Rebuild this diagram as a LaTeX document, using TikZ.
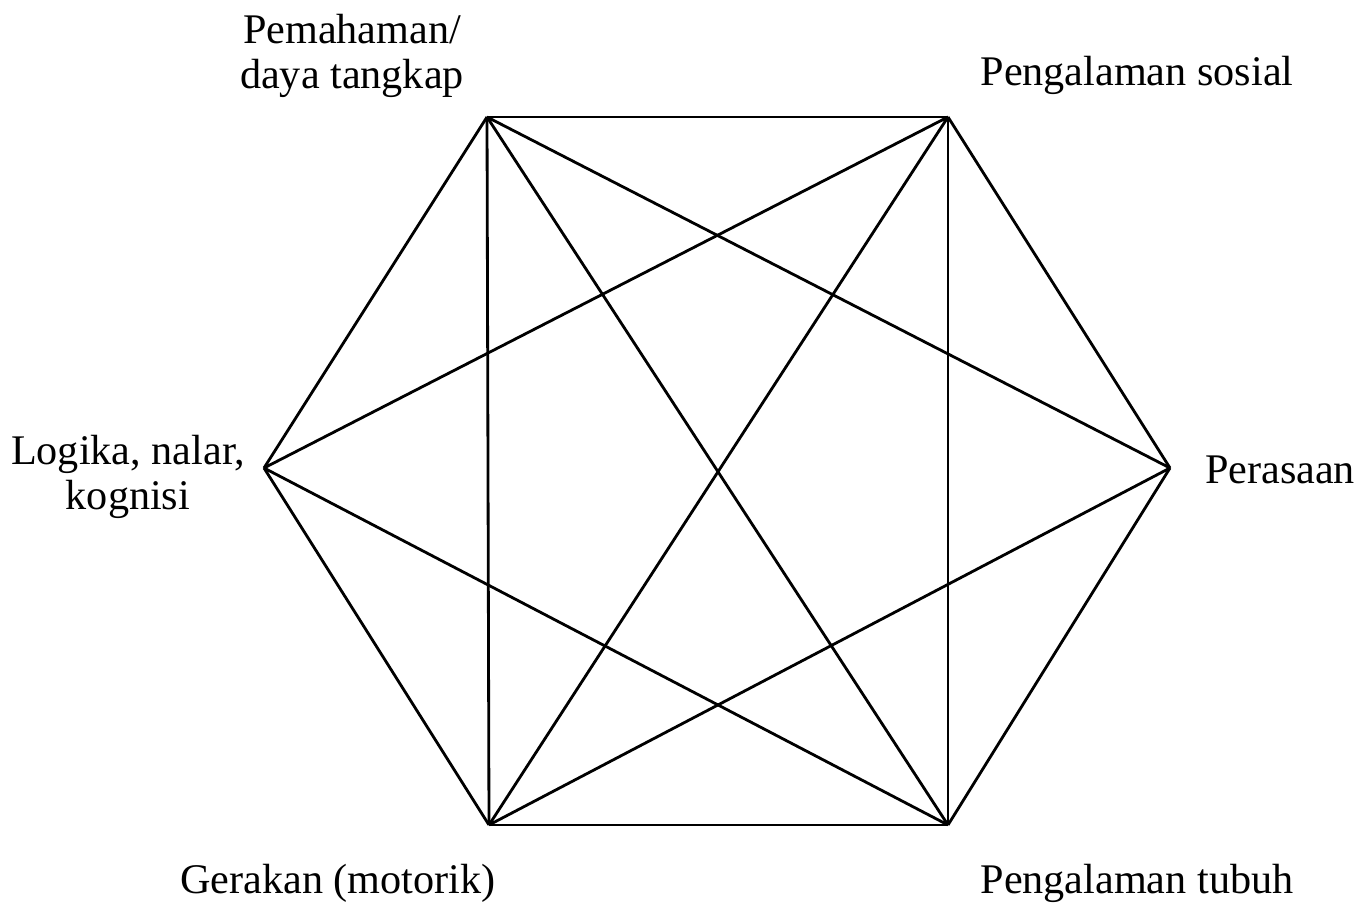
\documentclass[tikz,border=0pt]{standalone}
\usepackage{fontspec}
\setmainfont{Liberation Serif}
\usetikzlibrary{positioning}
\tikzset{
  lab/.style={align=center, font=\fontsize{12}{13}\selectfont, inner sep=1pt},
  edge/.style={line width=0.8pt, black},
}

\begin{document}
\begin{tikzpicture}[x=0.01cm, y=-0.01cm]
\useasboundingbox (0,0) rectangle (1366,904);
% corners of the hexagon
\coordinate (paham)  at (487,117);
\coordinate (sosial) at (948,117);
\coordinate (rasa)   at (1170,468);
\coordinate (tubuh)  at (948,825);
\coordinate (gerak)  at (489,825);
\coordinate (logika) at (264,468);
% joins (no line between logika and rasa)
\foreach \a/\b in {paham/sosial, paham/rasa, paham/tubuh, paham/gerak, paham/logika,
                   sosial/rasa, sosial/tubuh, sosial/gerak, sosial/logika,
                   rasa/tubuh, rasa/gerak,
                   tubuh/gerak, tubuh/logika, gerak/logika} {
  \draw[edge] (\a) -- (\b);
}
% labels
\node[lab] (lpaham)  at (352,56)  {Pemahaman/\\daya tangkap};
\node[lab] (lsosial) at (1137,75) {Pengalaman sosial};
\node[lab] (lrasa)   at (1280,470) {Perasaan};
\node[lab] (ltubuh)  at (1137,883) {Pengalaman tubuh};
\node[lab] (lgerak)  at (338,883) {Gerakan (motorik)};
\node[lab] (llogika) at (128,477) {Logika, nalar,\\kognisi};
\end{tikzpicture}
\end{document}
